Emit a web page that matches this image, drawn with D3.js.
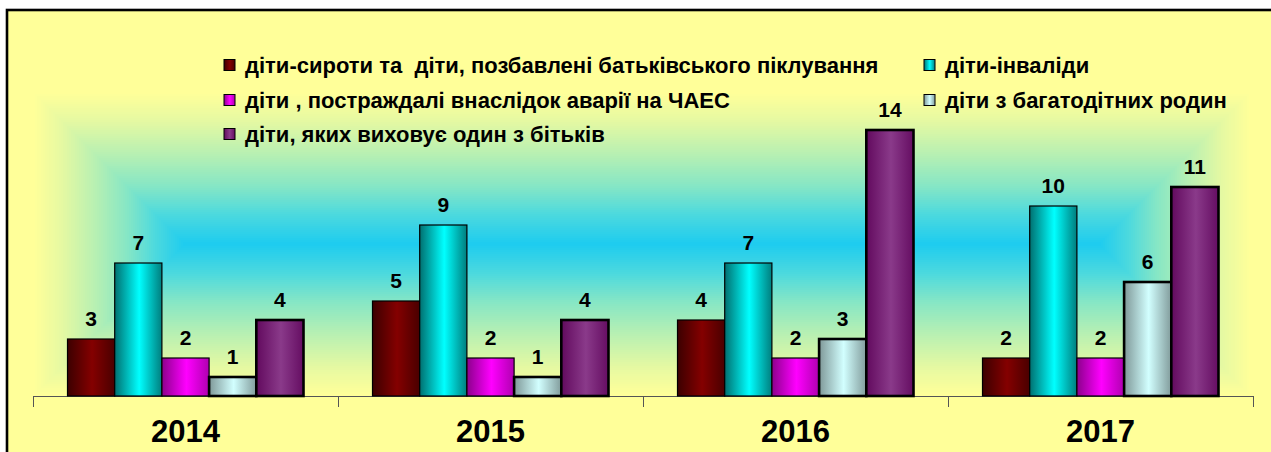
<!DOCTYPE html>
<html>
<head>
<meta charset="utf-8">
<script src="https://cdn.jsdelivr.net/npm/d3@7/dist/d3.min.js"></script>
<style>
  html, body { margin: 0; padding: 0; background: #fff; }
  svg { display: block; font-family: Arial, "Liberation Sans", sans-serif; }
  .legend text { white-space: pre; }
</style>
</head>
<body>
<div id="chart"></div>
<script>
// data
const years = ["2014", "2015", "2016", "2017"];
const seriesNames = [
  "діти-сироти та  діти, позбавлені батьківського піклування",
  "діти-інваліди",
  "діти , постраждалі внаслідок аварії на ЧАЕС",
  "діти з багатодітних родин",
  "діти, яких виховує один з бітьків"
];
const orphans = [3, 5, 4, 2];
const disabled = [7, 9, 7, 10];
const chernobyl = [2, 2, 2, 2];
const largeFamilies = [1, 1, 3, 6];
const singleParent = [4, 4, 14, 11];
const seriesValues = [orphans, disabled, chernobyl, largeFamilies, singleParent];
const yDomain = [0, 16];

// dimensions
const WIDTH = 1271;
const HEIGHT = 452;
const PLOT_LEFT = 33;
const PLOT_RIGHT = 1253;
const PLOT_TOP = 92;
const PLOT_BOTTOM = 396;
const GROUP_PAD = 34.5;

// bar fills: [left, middle, right] of the horizontal shading
const barShades = [
  ["#3c0000", "#840000", "#4a0000"],
  ["#007070", "#00ffff", "#007e7e"],
  ["#8c008c", "#ff00ff", "#b000b0"],
  ["#7f9898", "#d2ffff", "#829c9c"],
  ["#620a5e", "#8a3a8a", "#650d62"]
];
const barStroke = [1.2, 1.2, 1.2, 2.6, 2.6];

const $svg = d3.select("#chart")
  .append("svg")
  .attr("width", WIDTH)
  .attr("height", HEIGHT);

const $defs = $svg.append("defs");

barShades.forEach((shade, i) => {
  const $g = $defs.append("linearGradient")
    .attr("id", `bar-${i}`)
    .attr("x1", "0%").attr("x2", "100%")
    .attr("y1", "0%").attr("y2", "0%");
  $g.append("stop").attr("offset", "0%").attr("stop-color", shade[0]);
  $g.append("stop").attr("offset", "52%").attr("stop-color", shade[1]);
  $g.append("stop").attr("offset", "100%").attr("stop-color", shade[2]);
});

// frame
$svg.append("rect")
  .attr("x", 7)
  .attr("y", 10)
  .attr("width", WIDTH + 20)
  .attr("height", HEIGHT + 20)
  .attr("fill", "#ffff99")
  .attr("stroke", "#000")
  .attr("stroke-width", 2.6);

// scales
const scaleX = d3.scaleBand()
  .domain(years)
  .range([PLOT_LEFT, PLOT_RIGHT]);

const scaleSeries = d3.scaleBand()
  .domain(d3.range(seriesNames.length))
  .range([GROUP_PAD, scaleX.bandwidth() - GROUP_PAD]);

const scaleY = d3.scaleLinear()
  .domain(yDomain)
  .range([PLOT_BOTTOM, PLOT_TOP]);

// plot area: rectangular gradient from the edges to the middle line
const bgColor = d3.scaleLinear()
  .domain([0, 0.18, 0.4, 0.62, 0.8, 1])
  .range(["#ffff99", "#e6f9a2", "#b8f0b2", "#84e6c6", "#4cd9de", "#1ccbf0"]);

const plotW = 1251 - PLOT_LEFT;
const plotH = PLOT_BOTTOM - PLOT_TOP;
const STEP = 2;
const steps = d3.range(0, plotH / 2, STEP);

$svg.append("g")
  .attr("class", "g-bg")
  .selectAll("rect")
  .data(steps)
  .join("rect")
  .attr("x", d => PLOT_LEFT + d)
  .attr("y", d => PLOT_TOP + d)
  .attr("width", d => plotW - 2 * d)
  .attr("height", d => Math.max(plotH - 2 * d, 1))
  .attr("fill", d => bgColor(d / (plotH / 2)));

// axis with ticks between the categories
const tickXs = years.map(y => scaleX(y)).concat([PLOT_RIGHT]);
const $axis = $svg.append("g").attr("class", "g-axis");

$axis.append("line")
  .attr("x1", PLOT_LEFT)
  .attr("x2", PLOT_RIGHT)
  .attr("y1", PLOT_BOTTOM + 0.5)
  .attr("y2", PLOT_BOTTOM + 0.5)
  .attr("stroke", "#555")
  .attr("stroke-width", 1);

$axis.selectAll(".tick")
  .data(tickXs)
  .join("line")
  .attr("class", "tick")
  .attr("x1", d => d + 0.5)
  .attr("x2", d => d + 0.5)
  .attr("y1", PLOT_BOTTOM)
  .attr("y2", PLOT_BOTTOM + 11)
  .attr("stroke", "#555")
  .attr("stroke-width", 1);

$axis.selectAll(".year")
  .data(years)
  .join("text")
  .attr("class", "year")
  .attr("x", d => scaleX(d) + scaleX.bandwidth() / 2)
  .attr("y", 442)
  .attr("text-anchor", "middle")
  .attr("font-size", 31)
  .attr("font-weight", "bold")
  .attr("fill", "#000")
  .text(d => d);

// bars
const $groups = $svg.append("g")
  .attr("class", "g-vis")
  .selectAll(".year-group")
  .data(years)
  .join("g")
  .attr("class", "year-group")
  .attr("transform", d => `translate(${scaleX(d)},0)`);

const $bars = $groups.selectAll(".bar")
  .data((d, yi) => seriesValues.map((vals, si) => ({ si, value: vals[yi] })))
  .join("g")
  .attr("class", "bar");

$bars.append("rect")
  .attr("x", d => scaleSeries(d.si))
  .attr("y", d => scaleY(d.value))
  .attr("width", scaleSeries.bandwidth())
  .attr("height", d => scaleY(0) - scaleY(d.value))
  .attr("fill", d => `url(#bar-${d.si})`)
  .attr("stroke", "#000")
  .attr("stroke-width", d => barStroke[d.si]);

$bars.append("text")
  .attr("x", d => scaleSeries(d.si) + scaleSeries.bandwidth() / 2)
  .attr("y", d => scaleY(d.value) - 13)
  .attr("text-anchor", "middle")
  .attr("font-size", 21)
  .attr("font-weight", "bold")
  .attr("fill", "#000")
  .text(d => d.value);

// legend, two columns
const LEGEND_COLS = [224, 924];
const LEGEND_ROWS = [65, 100, 134];
const MARK = 11;

const $legend = $svg.append("g")
  .attr("class", "legend")
  .selectAll("g")
  .data(seriesNames)
  .join("g")
  .attr("transform", (d, i) =>
    `translate(${LEGEND_COLS[i % 2]},${LEGEND_ROWS[Math.floor(i / 2)]})`);

$legend.append("rect")
  .attr("x", 0)
  .attr("y", -MARK / 2)
  .attr("width", MARK)
  .attr("height", MARK)
  .attr("fill", (d, i) => `url(#bar-${i})`)
  .attr("stroke", "#000")
  .attr("stroke-width", 1);

$legend.append("text")
  .attr("x", 21)
  .attr("y", 8)
  .attr("font-size", 22)
  .attr("font-weight", "bold")
  .attr("fill", "#000")
  .text(d => d);
</script>
</body>
</html>
